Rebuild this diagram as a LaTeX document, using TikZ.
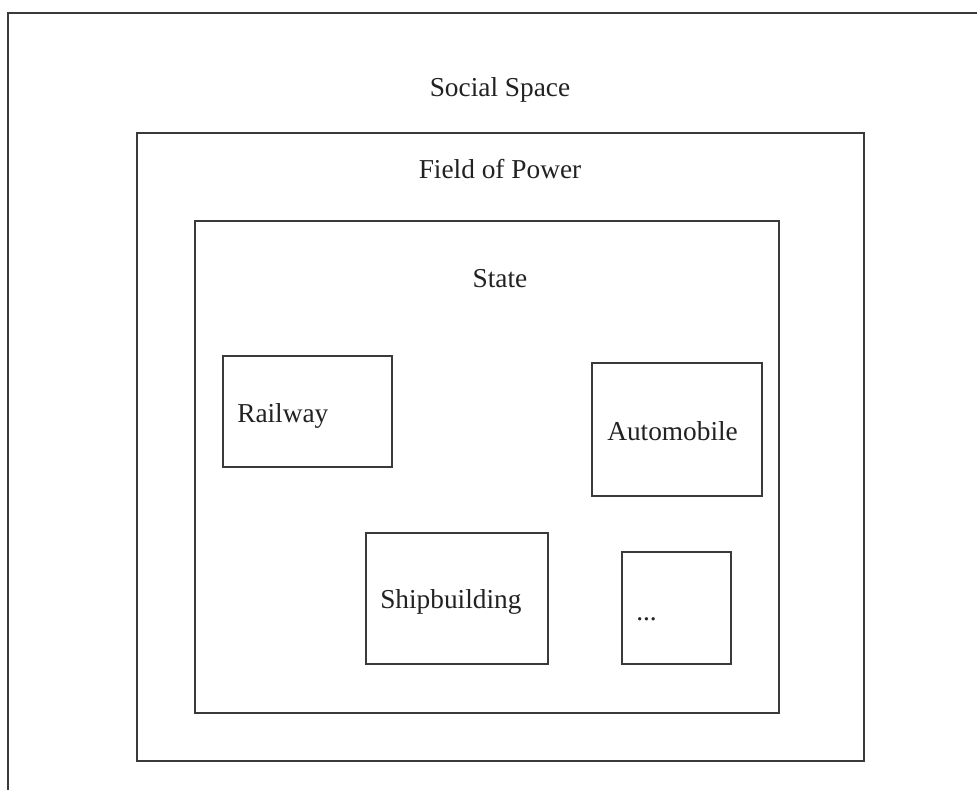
\documentclass[tikz,border=0pt]{standalone}
\usepackage{fontspec}
\setmainfont{Liberation Serif}
\definecolor{linegray}{HTML}{3A3A3A}
\definecolor{textgray}{HTML}{222222}
\tikzset{
  box/.style={draw=linegray, line width=1.1pt, inner sep=0pt, outer sep=0pt, rectangle},
  lbl/.style={inner sep=0pt, text=textgray, font=\fontsize{20.5pt}{24pt}\selectfont},
}
\begin{document}
\begin{tikzpicture}[x=0.75pt,y=-0.75pt]
\useasboundingbox (0,0) rectangle (977,789);
\fill[white] (0,0) rectangle (977,789);
\begin{scope}
\clip (0,0) rectangle (977,789);
\node[box, minimum width=736.5pt, minimum height=590.25pt] (social) at (499,406.5) {};
\end{scope}
\node[box, minimum width=545.25pt, minimum height=471pt] (power) at (500.5,447) {};
\node[box, minimum width=438pt, minimum height=369pt] (state) at (487,467) {};
\node[box, minimum width=126.75pt, minimum height=83.25pt] (railway) at (307.5,411.5) {};
\node[box, minimum width=127.5pt, minimum height=99.75pt] (auto) at (677,429.5) {};
\node[box, minimum width=136.5pt, minimum height=98.25pt] (ship) at (457,598.5) {};
\node[box, minimum width=81.75pt, minimum height=84pt] (dots) at (676.5,608) {};

\node[lbl, anchor=base] (tsocial) at (500,96) {Social Space};
\node[lbl, anchor=base] (tpower) at (500,178) {Field of Power};
\node[lbl, anchor=base] (tstate) at (500,287) {State};
\node[lbl, anchor=base west] (trail) at (237,422) {Railway};
\node[lbl, anchor=base west] (tauto) at (607,440) {Automobile};
\node[lbl, anchor=base west] (tship) at (380,608) {Shipbuilding};
\node[lbl, anchor=base west] (tdots) at (636,620) {...};
\end{tikzpicture}
\end{document}
